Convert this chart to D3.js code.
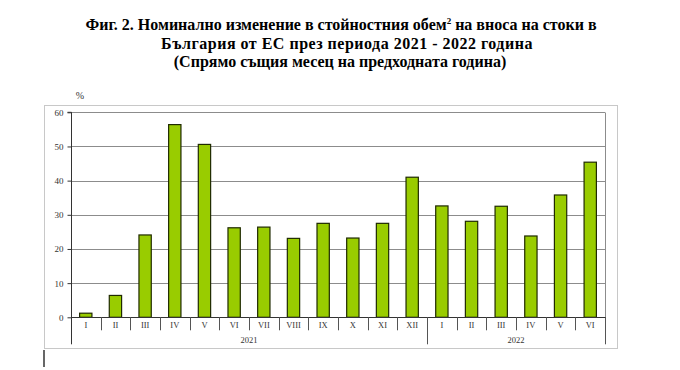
<!DOCTYPE html>
<html>
<head>
<meta charset="utf-8">
<script src="https://cdn.jsdelivr.net/npm/d3@7"></script>
<style>
  html, body { margin: 0; padding: 0; background: #fff; }
  svg { display: block; }
</style>
</head>
<body>
<svg id="chart" width="680" height="370"></svg>
<script>
const months = ["I","II","III","IV","V","VI","VII","VIII","IX","X","XI","XII","I","II","III","IV","V","VI"];
const years = ["2021","2022"];
const yearCounts = [12, 6];
const values = [1.2, 6.4, 24.1, 56.4, 50.6, 26.2, 26.4, 23.1, 27.5, 23.2, 27.5, 41.0, 32.6, 28.1, 32.5, 23.8, 35.8, 45.4];
const yTicks = [0, 10, 20, 30, 40, 50, 60];
const titleLines = ["Фиг. 2. Номинално изменение в стойностния обем", "България от ЕС през периода 2021 - 2022 година", "(Спрямо същия месец на предходната година)"];
const titleSup = "2";
const titleRest = " на вноса на стоки в";
const unitLabel = "%";

const svg = d3.select("#chart");
const serif = "'Liberation Serif', 'Times New Roman', serif";

const plot = {left: 71, right: 605, top: 112.3, bottom: 317.3};
const x = d3.scaleBand().domain(d3.range(months.length)).range([plot.left, plot.right]).paddingInner(0.585).paddingOuter(0.29);
const xFull = d3.scaleBand().domain(d3.range(months.length)).range([plot.left, plot.right]);
const y = d3.scaleLinear().domain([0, 60]).range([plot.bottom, plot.top]);

// outer frame
svg.append("rect").attr("x", 44.5).attr("y", 105.5).attr("width", 573).attr("height", 243)
  .attr("fill", "none").attr("stroke", "#c8c8c8").attr("stroke-width", 1);

// gridlines
svg.append("g").selectAll("line").data(yTicks.filter(d => d > 0)).join("line")
  .attr("x1", plot.left).attr("x2", plot.right)
  .attr("y1", d => Math.round(y(d)) + 0.5).attr("y2", d => Math.round(y(d)) + 0.5)
  .attr("stroke", "#8c8c8c").attr("stroke-width", 1);

// right border of plot
svg.append("line").attr("x1", plot.right + 0.5).attr("x2", plot.right + 0.5)
  .attr("y1", Math.round(y(60)) + 0.5).attr("y2", plot.bottom)
  .attr("stroke", "#8c8c8c");

// bars
svg.append("g").selectAll("rect").data(values).join("rect")
  .attr("x", (d, i) => x(i))
  .attr("y", d => y(d))
  .attr("width", x.bandwidth())
  .attr("height", d => y(0) - y(d))
  .attr("fill", "#99cc00")
  .attr("stroke", "#1f2a00")
  .attr("stroke-width", 1.2);

// y axis
const yAxis = d3.axisLeft(y).tickValues(yTicks).tickSize(4).tickPadding(4);
const gy = svg.append("g").attr("transform", `translate(${plot.left + 0.5},0)`).call(yAxis);
gy.select(".domain").attr("stroke", "#333").attr("d", `M-4,${y(60)}H0V${plot.bottom + 27}`);
gy.selectAll(".tick line").attr("stroke", "#333");
gy.selectAll(".tick text").attr("font-family", serif).attr("font-size", 9).attr("fill", "#333");

// x axis baseline
svg.append("line").attr("x1", plot.left).attr("x2", plot.right + 1)
  .attr("y1", Math.round(plot.bottom) + 0.5).attr("y2", Math.round(plot.bottom) + 0.5)
  .attr("stroke", "#333");

// month separators
const yearStarts = [0, yearCounts[0], months.length];
svg.append("g").selectAll("line").data(d3.range(1, months.length + 1)).join("line")
  .attr("x1", i => Math.round(xFull(i - 1) + xFull.bandwidth()) + 0.5)
  .attr("x2", i => Math.round(xFull(i - 1) + xFull.bandwidth()) + 0.5)
  .attr("y1", plot.bottom)
  .attr("y2", i => yearStarts.includes(i) ? plot.bottom + 27 : plot.bottom + 13)
  .attr("stroke", "#555");

// month labels
svg.append("g").selectAll("text").data(months).join("text")
  .attr("x", (d, i) => xFull(i) + xFull.bandwidth() / 2)
  .attr("y", 327.5)
  .attr("text-anchor", "middle")
  .attr("font-family", serif).attr("font-size", 8.5).attr("fill", "#333")
  .text(d => d);

// year labels
svg.append("g").selectAll("text").data(years).join("text")
  .attr("x", (d, i) => {
    const a = xFull(yearStarts[i]);
    const b = xFull(yearStarts[i + 1] - 1) + xFull.bandwidth();
    return (a + b) / 2;
  })
  .attr("y", 343)
  .attr("text-anchor", "middle")
  .attr("font-family", serif).attr("font-size", 8.5).attr("fill", "#333")
  .text(d => d);

// unit label
svg.append("text").attr("x", 80).attr("y", 99).attr("text-anchor", "middle")
  .attr("font-family", serif).attr("font-size", 10).attr("fill", "#333").text(unitLabel);

// title
const title = svg.append("g").attr("font-family", serif).attr("font-weight", "bold").attr("font-size", 16).attr("fill", "#000").attr("text-anchor", "middle");
const l1 = title.append("text").attr("x", 341).attr("y", 30);
l1.append("tspan").text(titleLines[0]);
l1.append("tspan").attr("font-size", 9).attr("dy", -6).text(titleSup);
l1.append("tspan").attr("dy", 6).text(titleRest);
title.append("text").attr("x", 347).attr("y", 49).attr("letter-spacing", 0.5).text(titleLines[1]);
title.append("text").attr("x", 340).attr("y", 66.5).text(titleLines[2]);

// cursor mark
svg.append("line").attr("x1", 44).attr("x2", 44).attr("y1", 350).attr("y2", 367).attr("stroke", "#000").attr("stroke-width", 1.2);
</script>
</body>
</html>
